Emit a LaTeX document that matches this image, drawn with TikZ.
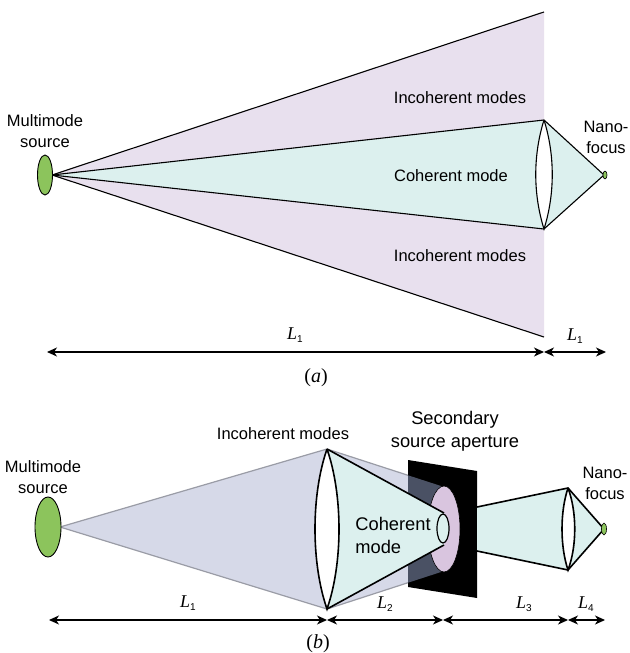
\documentclass[tikz,border=0pt]{standalone}
\usepackage{fontspec}
\setmainfont{Liberation Sans}
\newfontfamily\serifit{Liberation Serif}
\usetikzlibrary{arrows.meta}
\definecolor{purp}{HTML}{E8E0EE}
\definecolor{teal1}{HTML}{DCF0EE}
\definecolor{blu}{HTML}{D6D9E8}
\definecolor{pink1}{HTML}{D9C5DF}
\definecolor{dark1}{HTML}{4A5164}
\definecolor{grn}{HTML}{8CC45C}
\definecolor{edge1}{HTML}{9A9CA6}
\newcommand{\dimL}[1]{\textit{L}\raisebox{-3pt}{\normalfont\fontsize{10}{10}\selectfont #1}}
\tikzset{
  lbl/.style={font=\fontsize{16.5}{21}\selectfont, align=center, inner sep=0pt, text=black},
  lblbig/.style={font=\fontsize{18.3}{23}\selectfont, align=center, inner sep=0pt, text=black},
  dim/.style={draw=black, line width=1.2pt, {Stealth[length=10pt,width=9pt,inset=3pt]}-{Stealth[length=10pt,width=9pt,inset=3pt]}},
  dimlbl/.style={font=\serifit\fontsize{18}{20}\selectfont, inner sep=0pt},
  capt/.style={font=\serifit\fontsize{20}{22}\selectfont, inner sep=0pt},
  ray/.style={draw=black, line width=1.1pt},
  rayb/.style={draw=black, line width=1.6pt}
}
\begin{document}
\begin{tikzpicture}[x=1pt,y=-1pt]
\useasboundingbox (0,0) rectangle (629,653);
\fill[white] (0,0) rectangle (629,653);
% ---------- (a)
\coordinate (aApex) at (52,175);
\coordinate (aPT) at (544,12);
\coordinate (aPB) at (544,337);
\coordinate (aLT) at (544,120);
\coordinate (aLB) at (544,229);
\coordinate (aF) at (604,175);
\fill[purp] (aApex) -- (aPT) -- (aPB) -- cycle;
\fill[teal1] (aApex) -- (aLT) -- (aF) -- (aLB) -- cycle;
\draw[ray] (aPT) -- (aApex) -- (aPB);
\draw[ray] (aLT) -- (aApex) -- (aLB);
\draw[ray] (aLT) -- (aF) -- (aLB);
\draw[ray, fill=white] (aLT) .. controls (533,155) and (533,194) .. (aLB) .. controls (555,194) and (555,155) .. (aLT);
\draw[line width=0.9pt, fill=grn] (45,175) ellipse [x radius=7.5, y radius=20];
\draw[line width=0.6pt, fill=grn] (605,175) ellipse [x radius=2, y radius=4];
\node[lbl] (t1) at (45,131) {Multimode\\source};
\node[lbl] (t2) at (606,137.5) {Nano-\\focus};
\node[lbl] (t3) at (460,98) {Incoherent modes};
\node[lbl] (t4) at (451,176) {Coherent mode};
\node[lbl] (t5) at (460,256) {Incoherent modes};
\coordinate (aD0) at (47,352);
\coordinate (aD1) at (544,352);
\coordinate (aD2) at (606,352);
\draw[dim] (aD0) -- (aD1);
\draw[dim] (aD1) -- (aD2);
\node[dimlbl] (l1) at (295,335) {\dimL{1}};
\node[dimlbl] (l2) at (575,336) {\dimL{1}};
\node[capt] (ca) at (316,378) {(\textit{a})};
% ---------- (b)
\coordinate (bApex) at (60,527);
\coordinate (bLT) at (327,449);
\coordinate (bLB) at (327,609);
\coordinate (bCT) at (441,486);
\coordinate (bCB) at (441,572);
\fill[blu] (bApex) -- (bLT) -- (bCT) -- (bCB) -- (bLB) -- cycle;
\draw[edge1, line width=1.2pt] (bApex) -- (bLT) -- (bCT);
\draw[edge1, line width=1.2pt] (bApex) -- (bLB) -- (bCB);
\fill[black] (408,460) -- (477,471) -- (477,598) -- (408,587) -- cycle;
\begin{scope}
\clip (408,460) -- (477,471) -- (477,598) -- (408,587) -- cycle;
\fill[dark1] (bLT) -- (bCT) -- (bCB) -- (bLB) -- cycle;
\end{scope}
\draw[line width=0.6pt, fill=pink1] (444,529) ellipse [x radius=16, y radius=43];
\coordinate (bFT) at (444,513);
\coordinate (bFB) at (444,545);
\fill[teal1] (bLT) -- (bFT) -- (bFB) -- (bLB) -- cycle;
\draw[line width=1.2pt, fill=teal1] (443,528.5) ellipse [x radius=6, y radius=14.5];
\draw[rayb] (bLT) -- (bFT);
\draw[rayb] (bLB) -- (bFB);
\draw[rayb, fill=white] (bLT) .. controls (311,495) and (311,563) .. (bLB) .. controls (343,563) and (343,495) .. (bLT);
% right beam
\coordinate (cA) at (477,507);
\coordinate (cB) at (477,551);
\coordinate (cLT) at (568,488);
\coordinate (cLB) at (568,570);
\coordinate (cF) at (604,529);
\fill[teal1] (cA) -- (cLT) -- (cF) -- (cLB) -- (cB) -- cycle;
\draw[rayb] (cA) -- (cLT) -- (cF) -- (cLB) -- (cB);
\draw[rayb, fill=white] (cLT) .. controls (560,512) and (560,546) .. (cLB) .. controls (577,546) and (577,512) .. (cLT);
\draw[line width=0.9pt, fill=grn] (48,527) ellipse [x radius=13, y radius=30];
\draw[line width=0.6pt, fill=grn] (604,529) ellipse [x radius=2.5, y radius=6];
\node[lbl] (t6) at (43,477) {Multimode\\source};
\node[lbl] (t7) at (283,434) {Incoherent modes};
\node[lblbig] (t8) at (455,431) {Secondary\\source aperture};
\node[lblbig, align=left] (t9) at (393,535) {Coherent\\mode};
\node[lbl] (t10) at (605,483) {Nano-\\focus};
\coordinate (bD0) at (49,620);
\coordinate (bD1) at (327,620);
\coordinate (bD2) at (443,620);
\coordinate (bD3) at (568,620);
\coordinate (bD4) at (605,620);
\draw[dim] (bD0) -- (bD1);
\draw[dim] (bD1) -- (bD2);
\draw[dim] (bD2) -- (bD3);
\draw[dim] (bD3) -- (bD4);
\node[dimlbl] (l3) at (188,603) {\dimL{1}};
\node[dimlbl] (l4) at (385,604) {\dimL{2}};
\node[dimlbl] (l5) at (524,604) {\dimL{3}};
\node[dimlbl] (l6) at (586,604) {\dimL{4}};
\node[capt] (cb) at (318,644) {(\textit{b})};
\end{tikzpicture}
\end{document}
